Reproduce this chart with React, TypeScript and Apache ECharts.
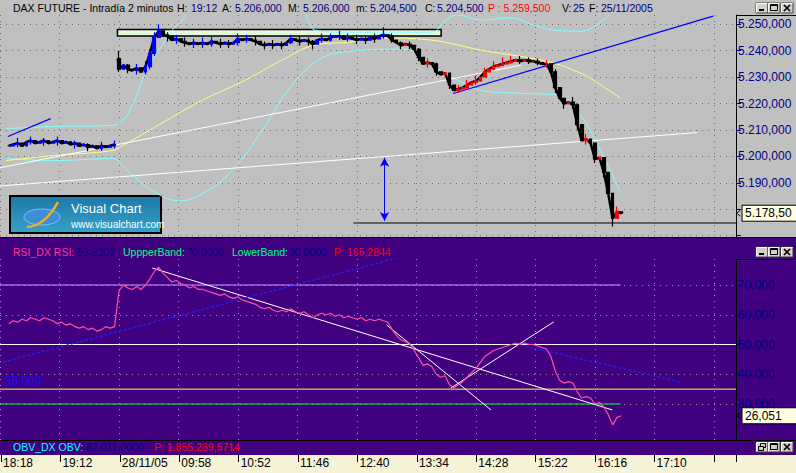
import React, { useEffect, useRef } from "react";
import * as echarts from "echarts";

// ---------- axis labels ----------
const timeLabels = ["18:18", "19:12", "28/11/05", "09:58", "10:52", "11:46", "12:40", "13:34", "14:28", "15:22", "16:16", "17:10", ""];
const barsPerLabel = 27; // 2-minute bars between labels
const xMax = 334;

// ---------- price (sampled every 2 bars) ----------
const day1Start = 4;
const day1Closes = [5204, 5204.5, 5205, 5204, 5205.5, 5206, 5205, 5205.5, 5206, 5205, 5205.5, 5206, 5205, 5205.5, 5204.5, 5205, 5204, 5204.5, 5203.5, 5204, 5203, 5204, 5203.5, 5204, 5204.5];
const day2Start = 54;
const day2Open = 5237;
const day2Closes = [
  5233, 5234.5, 5233, 5232.5, 5233.5, 5232, 5234, 5239, 5245, 5247.5,
  5246, 5245.5, 5244, 5244.5, 5243.5, 5243, 5242.5, 5243, 5242.5, 5243,
  5242.5, 5243.5, 5243, 5242.5, 5243, 5242.5, 5243, 5244.5, 5244, 5244.5,
  5244, 5243.5, 5242.5, 5242, 5242.5, 5242, 5242.5, 5242, 5243, 5244.5,
  5244, 5243.5, 5244, 5243.5, 5242.5, 5244, 5244.5, 5244, 5245, 5245.5,
  5245.5, 5244.5, 5245, 5244.5, 5244, 5244.5, 5244, 5245, 5244.5, 5245.5,
  5246, 5245.5, 5244, 5243, 5242, 5242.5, 5242, 5240.5, 5237.5, 5235,
  5235.5, 5235, 5232, 5231, 5231.5, 5227, 5225, 5225.5, 5226, 5227,
  5228, 5228.5, 5230, 5232, 5233, 5234, 5234.5, 5235, 5235.5, 5236,
  5236.5, 5236, 5236.5, 5236, 5236, 5235.5, 5235, 5235, 5232, 5226,
  5222, 5220, 5220.5, 5219.5, 5212, 5206, 5206.5, 5205, 5199, 5199.5,
  5194, 5186, 5176.5, 5179, 5178.5,
];
const redFromIndex = 178;
// [bar index, low, high]
const wicks = [
  [8, 5203.5, 5207], [14, 5204.5, 5207.5], [20, 5204, 5207], [26, 5204, 5207.5], [34, 5203, 5206],
  [40, 5202, 5205], [46, 5202, 5205.5], [52, 5203, 5206],
  [54, 5232, 5240], [58, 5231.5, 5235], [62, 5231, 5235], [66, 5231, 5236], [68, 5233, 5240.5],
  [70, 5238, 5247], [72, 5245.5, 5250], [76, 5243.5, 5247], [80, 5242.5, 5246], [84, 5241.5, 5245],
  [88, 5241, 5244.5], [92, 5241, 5245], [96, 5241.5, 5245.5], [100, 5241, 5244.5], [104, 5241, 5244],
  [108, 5242, 5246.5], [112, 5243, 5246], [116, 5242, 5245.5], [120, 5240.5, 5243.5], [124, 5240.5, 5244],
  [128, 5240.5, 5243.5], [132, 5242.5, 5246], [136, 5242, 5245.5], [140, 5242, 5245], [142, 5240.5, 5244],
  [146, 5243, 5246.5], [150, 5243.5, 5246.5], [154, 5244, 5247.5], [158, 5243.5, 5246.5], [162, 5242.5, 5246],
  [166, 5242.5, 5245.5], [170, 5243, 5246.5], [174, 5244.5, 5249], [178, 5243, 5246.5], [182, 5240.5, 5243.5],
  [186, 5240.5, 5243.5], [190, 5236, 5241], [194, 5233.5, 5237], [198, 5230.5, 5235.5], [204, 5225.5, 5231.5],
  [208, 5224, 5227], [212, 5225.5, 5229], [216, 5227, 5230.5], [220, 5230.5, 5233.5], [224, 5232.5, 5236],
  [228, 5234, 5237.5], [232, 5235, 5238], [236, 5235, 5238], [240, 5235, 5237.5], [244, 5234.5, 5237],
  [248, 5233.5, 5236.5], [252, 5224, 5233], [256, 5218, 5222], [260, 5218, 5222.5], [262, 5210, 5220],
  [266, 5204.5, 5208.5], [270, 5197.5, 5203], [274, 5192, 5197.5], [278, 5173.5, 5186], [280, 5177, 5181],
];
const lastPrice = 5178.5;

// ---------- overlays on price panel: [bar index, price] ----------
const upperBand = [[2.7, 5210.5], [24, 5211.3], [51, 5211.7], [55.6, 5213.6], [60, 5219.3], [64.6, 5228.8], [69, 5236.4], [73.7, 5242.1], [78.2, 5247.8], [82.7, 5251.6], [87.2, 5256.2], [114, 5259], [137, 5255.4], [140, 5250.8], [142.8, 5247.8], [155, 5247], [195.7, 5247], [202.5, 5251.6], [207, 5253.5], [218.3, 5251.6], [231.9, 5252.4], [241, 5250], [251.3, 5247.8], [263.5, 5247.4], [272.5, 5250.8], [278.4, 5255.4], [281.6, 5258.4]];
const lowerBand = [[2.7, 5199.2], [24, 5198.4], [51, 5199.2], [57.9, 5194.6], [69.1, 5187], [81.3, 5183.2], [91.7, 5185.8], [105.3, 5194.6], [118.9, 5209.8], [132.4, 5226.9], [146, 5237.2], [159.5, 5239.8], [182.1, 5240.6], [188.9, 5239.4], [197, 5233.7], [207.9, 5228.8], [218.3, 5225], [236.4, 5223.9], [248.6, 5223.5], [254.5, 5222.7], [263.5, 5215.5], [272.5, 5202.2], [281.6, 5186.2]];
const movingAvg = [[2.7, 5198.4], [24, 5200.3], [51, 5202.2], [55.6, 5204.1], [69.1, 5210.5], [91.7, 5221.2], [111.2, 5228.8], [127.9, 5236.4], [142.8, 5242.1], [158.2, 5243.2], [173.1, 5244.8], [195.7, 5244], [218.3, 5240.2], [240.9, 5237.2], [251.3, 5235.3], [263.5, 5231.5], [269.4, 5228.8], [281.6, 5222]];
const whiteLineLong = [[0, 5188.8], [316.4, 5209]];
const whiteLineLows = [[0, 5195.7], [236.4, 5234.5]];
const blueTrend = [[205.6, 5223.8], [323.6, 5253.1]];
const blueTrendLeft = [[3.6, 5207.5], [23, 5214.3]];
const supportLine = [[160.4, 5174.8], [334, 5174.8]];
const arrowLine = [[174.5, 5199.5], [174.5, 5175.6]];
const resistanceBox = [[53.3, 5245.6], [200.2, 5248]];

// ---------- RSI (sampled every 2 bars from bar 4) ----------
const rsiStart = 4;
const rsiValues = [
  57, 58, 57.5, 58.5, 58, 59, 58.5, 58, 59, 58.5, 58, 57, 57.5, 56.5, 57, 56, 55.5, 56, 55, 55.5, 54.5, 55, 56, 55.5, 56,
  68, 70, 69, 68.5, 69.5, 68.5, 70, 72, 74.5, 76,
  74, 72.5, 71, 71.5, 70.5, 70, 69, 69.5, 68.5, 68.5,
  68, 67.5, 67, 66.5, 67, 66, 65.5, 66, 65, 64.5,
  64, 63.5, 62.5, 62, 62.5, 61.5, 61, 61.5, 61, 62,
  61, 60.5, 61, 60, 59, 60, 60.5, 60, 60.5, 59.5,
  60, 59, 59.5, 59, 58.5, 59, 58, 58.5, 58, 58.5,
  58, 57.5, 55, 53, 51.5, 51, 50, 48, 45.5, 43,
  43.5, 42.5, 40, 39, 39.5, 36.5, 35.5, 36.5, 37.5, 39,
  40.5, 42, 44, 46, 47, 48, 48.5, 49, 49.5, 50,
  50.5, 50, 50.5, 50, 50, 49.5, 49, 48.5, 46, 41,
  38, 37, 37.5, 37, 34, 32, 32.5, 32, 30, 30.5,
  29, 26.5, 23, 25.5, 26.05,
];
const lastRsi = 26.051;
const rsiLevelsShort = [[70, "#c89cff"], [30, "#00ff40"]];
const rsiLevelsLong = [[50, "#ffffff"], [35, "#ffff40"]];
const rsiLevelEnd = 281.6;
const rsiWhiteLines = [
  [[69.1, 75.7], [277.9, 28]],
  [[175.4, 56.6], [222.8, 28]],
  [[204.7, 35.4], [251.3, 57.6]],
];
const rsiBlueLines = [
  [[1.4, 44.1], [179.9, 79]],
  [[236.4, 49.8], [308.7, 37.4]],
];

// ---------- header texts ----------
const NAVY = "#000080";
const headerItems = [
  ["DAX FUTURE - Intradía 2 minutos", 13, "#000"], ["H:", 177, "#000"], ["19:12", 191, NAVY],
  ["A:", 222, "#000"], ["5.206,000", 235, NAVY], ["M:", 288, "#000"], ["5.206,000", 303, NAVY],
  ["m:", 356, "#000"], ["5.204,500", 370, NAVY], ["C:", 425, "#000"], ["5.204,500", 437, NAVY],
  ["P : 5.259,500", 488, "#ff0000"], ["V:", 562, "#000"], ["25", 573, NAVY],
  ["F:", 589, "#000"], ["25/11/2005", 601, NAVY],
];
const rsiHeaderItems = [
  ["RSI_DX RSI:", 13, "#ff3399"], ["53,2302", 77, NAVY], ["UppperBand:", 123, "#00ff80"],
  ["70,0000", 186, NAVY], ["LowerBand:", 232, "#00ff80"], ["30,0000", 289, NAVY], ["P: 165,2844", 334, "#ff0000"],
];
const obvHeaderItems = [
  ["OBV_DX OBV:", 13, "#00ffff"], ["82.011,0000", 86, NAVY], ["P: 1.855.239,5714", 154, "#ff0000"],
];

const FONT = '"Liberation Sans", Arial, sans-serif';

function fmtDE(v: number, dec: number) {
  const s = Math.abs(v).toFixed(dec);
  const [intPart, frac] = s.split(".");
  const dotted = intPart.replace(/\B(?=(\d{3})+(?!\d))/g, ".");
  return (v < 0 ? "-" : "") + dotted + (frac ? "," + frac : "");
}

function buildCandles() {
  const blue: number[][] = [];
  const red: number[][] = [];
  const push = (i: number, o: number, c: number) => {
    let lo = Math.min(o, c), hi = Math.max(o, c);
    const w = wicks.find((k) => k[0] === i);
    if (w) { lo = Math.min(lo, w[1]); hi = Math.max(hi, w[2]); }
    (i >= redFromIndex ? red : blue).push([i, o, c, lo, hi]);
  };
  let prev = day1Closes[0];
  day1Closes.forEach((c, k) => { push(day1Start + 2 * k, prev, c); prev = c; });
  prev = day2Open;
  day2Closes.forEach((c, k) => { push(day2Start + 2 * k, prev, c); prev = c; });
  return { blue, red };
}

function xAxis(gridIndex: number) {
  const labels = gridIndex === 2;
  return {
    type: "value", gridIndex, min: 0, max: xMax, interval: barsPerLabel,
    axisLine: { show: false },
    axisTick: labels ? { show: true, length: 7, lineStyle: { color: "#000", width: 1 } } : { show: false },
    axisLabel: labels
      ? {
          show: true, color: "#000", fontSize: 12, fontFamily: FONT, align: "left", margin: 2, padding: [0, 0, 0, 2],
          formatter: (v: number) => {
            const k = Math.round(v / barsPerLabel);
            return Math.abs(v - k * barsPerLabel) < 1e-6 ? timeLabels[k] ?? "" : "";
          },
        }
      : { show: false },
    splitLine: gridIndex < 2
      ? { show: true, lineStyle: { color: gridIndex === 0 ? "#6e6e6e" : "#9a9aa6", type: [1, 5], width: 1 } }
      : { show: false },
  };
}

function line(data: number[][], color: string, grid: number, extra: any = {}) {
  return {
    type: "line", xAxisIndex: grid, yAxisIndex: grid, data, symbol: "none", showSymbol: false, silent: true,
    smooth: extra.smooth ?? false, z: extra.z ?? 3,
    lineStyle: { color, width: extra.width ?? 1, type: extra.type ?? "solid" },
    ...(extra.more || {}),
  };
}

function buildOption() {
  const { blue, red } = buildCandles();
  const rsiData = rsiValues.map((v, k) => [rsiStart + 2 * k, v]);
  const day1Trace = day1Closes.map((c, k) => [day1Start + 2 * k, c]);
  const day2Trace = [[day2Start - 0.5, day2Open], ...day2Closes.map((c, k) => [day2Start + 2 * k, c])];
  const candleStyle = (c: string) => ({ color: c, color0: "#000000", borderColor: c, borderColor0: "#000000", borderWidth: 1.2 });
  const series: any[] = [
    line([resistanceBox[0]], "transparent", 0, {
      z: 1,
      more: {
        markArea: {
          silent: true,
          itemStyle: { color: "#e4f8dc", borderColor: "#000", borderWidth: 1.5, opacity: 1 },
          data: [[{ coord: resistanceBox[0] }, { coord: resistanceBox[1] }]],
        },
      },
    }),
    line(upperBand, "#80ffff", 0, { smooth: 0.4 }),
    line(lowerBand, "#80ffff", 0, { smooth: 0.4 }),
    line(movingAvg, "#ffff80", 0, { smooth: 0.4 }),
    line(whiteLineLong, "#ffffff", 0),
    line(whiteLineLows, "#ffffff", 0),
    line(blueTrend, "#0000ff", 0, { width: 1.2 }),
    line(blueTrendLeft, "#0000ff", 0, { width: 1.2 }),
    line(day1Trace, "#000000", 0, { z: 4, width: 2.5 }),
    line(day2Trace, "#000000", 0, { z: 4, width: 2.5 }),
    {
      type: "candlestick", xAxisIndex: 0, yAxisIndex: 0, data: blue, barWidth: 3.2, z: 5, silent: true,
      encode: { x: 0, y: [1, 2, 3, 4] }, itemStyle: candleStyle("#0000ff"),
    },
    {
      type: "candlestick", xAxisIndex: 0, yAxisIndex: 0, data: red, barWidth: 3.2, z: 5, silent: true,
      encode: { x: 0, y: [1, 2, 3, 4] }, itemStyle: candleStyle("#ff0000"),
    },
    line(supportLine, "#000000", 0, {
      z: 6,
      more: {
        markLine: {
          silent: true, symbol: ["arrow", "arrow"], symbolSize: [7, 9],
          lineStyle: { color: "#0000ff", width: 1, type: "solid" }, label: { show: false },
          data: [[{ coord: arrowLine[0] }, { coord: arrowLine[1] }]],
        },
      },
    }),
    ...rsiLevelsShort.map(([lv, c]) => line([[0, lv as number], [rsiLevelEnd, lv as number]], c as string, 1, { z: 2 })),
    ...rsiLevelsLong.map(([lv, c]) => line([[0, lv as number], [xMax, lv as number]], c as string, 1, { z: 2 })),
    ...rsiWhiteLines.map((l) => line(l, "#ffffff", 1, { z: 3 })),
    ...rsiBlueLines.map((l) => line(l, "#2020ff", 1, { z: 3, type: [3, 2], width: 1.3 })),
    line(rsiData, "#ff4fa7", 1, { z: 4, width: 1.2 }),
    line([], "transparent", 2),
  ];

  return {
    animation: false,
    backgroundColor: "transparent",
    grid: [
      { left: -3, right: 60, top: 15, bottom: 236 },
      { left: -3, right: 60, top: 259, bottom: 33 },
      { left: -3, right: 60, top: 441, bottom: 18 },
    ],
    xAxis: [xAxis(0), xAxis(1), xAxis(2)],
    yAxis: [
      {
        type: "value", gridIndex: 0, position: "right", min: 5169.5, max: 5253.5, splitNumber: 8,
        axisLine: { show: true, onZero: false, lineStyle: { color: "#000", width: 1 } },
        axisTick: { show: true, length: 5, lineStyle: { color: NAVY }, customValues: [5170, 5180, 5190, 5200, 5210, 5220, 5230, 5240, 5250] },
        axisLabel: {
          color: NAVY, fontSize: 12, fontFamily: FONT, margin: 2,
          customValues: [5190, 5200, 5210, 5220, 5230, 5240, 5250],
          formatter: (v: number) => (v >= 5189 && v <= 5251 && Math.abs(v % 10) < 1e-6 ? fmtDE(v, 3) : ""),
        },
        splitLine: { show: true, lineStyle: { color: "#6e6e6e", type: [1, 5], width: 1 } },
      },
      {
        type: "value", gridIndex: 1, position: "right", min: 17.9, max: 78.74, splitNumber: 6,
        axisLine: { show: true, onZero: false, lineStyle: { color: "#000", width: 1 } },
        axisTick: { show: true, length: 5, lineStyle: { color: NAVY }, customValues: [30, 40, 50, 60, 70] },
        axisLabel: {
          color: NAVY, fontSize: 12, fontFamily: FONT, margin: 2,
          customValues: [30, 40, 50, 60, 70],
          formatter: (v: number) => (v >= 29 && v <= 71 && Math.abs(v % 10) < 1e-6 ? fmtDE(v, 3) : ""),
        },
        splitLine: { show: true, lineStyle: { color: "#9a9aa6", type: [1, 5], width: 1 } },
      },
      { type: "value", gridIndex: 2, show: false, min: 0, max: 1 },
    ],
    series,
  };
}

function texts(items: any[], y: number) {
  return items.map(([t, x, c]) => ({
    type: "text", x, y, z: 100,
    style: { text: t, fill: c, font: `10.5px ${FONT}`, textVerticalAlign: "middle" },
  }));
}

function button(x: number, y: number, kind: string) {
  const w = 12, h = 10;
  const glyph: any[] = [];
  if (kind === "min") glyph.push({ type: "rect", shape: { x: 3, y: 6, width: 5, height: 2 }, style: { fill: "#000" } });
  if (kind === "max") glyph.push({ type: "rect", shape: { x: 2.5, y: 1.5, width: 7, height: 6 }, style: { fill: "none", stroke: "#000", lineWidth: 1 } },
    { type: "line", shape: { x1: 2.5, y1: 2.5, x2: 9.5, y2: 2.5 }, style: { stroke: "#000", lineWidth: 1 } });
  if (kind === "close") glyph.push({ type: "line", shape: { x1: 3, y1: 2, x2: 9, y2: 8 }, style: { stroke: "#000", lineWidth: 1.6 } },
    { type: "line", shape: { x1: 9, y1: 2, x2: 3, y2: 8 }, style: { stroke: "#000", lineWidth: 1.6 } });
  if (kind === "restore") glyph.push({ type: "rect", shape: { x: 4.5, y: 1.5, width: 5, height: 4 }, style: { fill: "none", stroke: "#000" } },
    { type: "rect", shape: { x: 2.5, y: 4.5, width: 5, height: 4 }, style: { fill: "#d4d0c8", stroke: "#000" } });
  return {
    type: "group", x, y, z: 100,
    children: [
      { type: "rect", shape: { x: 0, y: 0, width: w, height: h }, style: { fill: "#d4d0c8", stroke: "#404040", lineWidth: 1 } },
      { type: "polyline", shape: { points: [[0.5, h - 0.5], [0.5, 0.5], [w - 0.5, 0.5]] }, style: { stroke: "#ffffff", fill: null, lineWidth: 1 } },
      ...glyph,
    ],
  };
}

function tag(x: number, y: number, text: string) {
  return {
    type: "group", x, y, z: 110,
    children: [
      { type: "polyline", shape: { points: [[-2, -3], [-5, 0], [-2, 3]] }, style: { stroke: "#000", fill: null, lineWidth: 1 } },
      { type: "rect", shape: { x: 0, y: -8, width: 60, height: 16 }, style: { fill: "#ffffe1", stroke: "#000", lineWidth: 1 } },
      { type: "text", x: 3, y: 0, style: { text, fill: "#000", font: `12px ${FONT}`, textVerticalAlign: "middle" } },
    ],
  };
}

function buildGraphics(py: number, ry: number) {
  return [
    { type: "line", z: 90, shape: { x1: 736, y1: 15.5, x2: 796, y2: 15.5 }, style: { stroke: "#000", lineWidth: 1 } },
    { type: "line", z: 90, shape: { x1: 736, y1: 259.5, x2: 796, y2: 259.5 }, style: { stroke: "#000", lineWidth: 1 } },
    { type: "line", z: 90, shape: { x1: 0, y1: 440.5, x2: 796, y2: 440.5 }, style: { stroke: "#000", lineWidth: 1 } },
    ...texts(headerItems, 8),
    ...texts(rsiHeaderItems, 252),
    ...texts(obvHeaderItems, 447),
    { type: "text", x: 5, y: 381, z: 100, style: { text: "35,000", fill: "#1010ff", font: `12px ${FONT}`, textVerticalAlign: "middle" } },
    button(756, 3, "min"), button(768, 3, "max"), button(781, 3, "close"),
    button(756, 247, "min"), button(768, 247, "max"), button(781, 247, "close"),
    button(756, 442, "restore"), button(768, 442, "max"), button(781, 442, "close"),
    tag(742, py, fmtDE(lastPrice, 2)),
    tag(742, ry, fmtDE(lastRsi, 3)),
    {
      type: "group", x: 10, y: 196, z: 100,
      children: [
        {
          type: "rect", shape: { x: 0, y: 0, width: 151, height: 37 },
          style: {
            fill: new echarts.graphic.LinearGradient(0, 0, 0, 1, [{ offset: 0, color: "#1e78a8" }, { offset: 1, color: "#35a2c8" }]),
            stroke: "#000", lineWidth: 2,
          },
        },
        { type: "ellipse", shape: { cx: 32, cy: 21, rx: 18, ry: 8 }, style: { fill: "#3f8fd8", stroke: "#7fc0f0", lineWidth: 1 } },
        { type: "bezierCurve", shape: { x1: 17, y1: 31, x2: 48, y2: 6, cpx1: 35, cpy1: 30 }, style: { stroke: "#f0b020", lineWidth: 2.5, fill: null } },
        { type: "text", x: 61, y: 12, style: { text: "Visual Chart", fill: "#ffffff", font: `13px ${FONT}`, textVerticalAlign: "middle" } },
        { type: "text", x: 61, y: 28, style: { text: "www.visualchart.com", fill: "#ffffff", font: `10px ${FONT}`, textVerticalAlign: "middle" } },
      ],
    },
  ];
}

export default function App() {
  const ref = useRef<HTMLDivElement>(null);
  useEffect(() => {
    const el = ref.current;
    if (!el) return;
    const chart = echarts.init(el, null, { renderer: "svg" });
    chart.setOption(buildOption() as any);
    const py = chart.convertToPixel({ yAxisIndex: 0 } as any, lastPrice) as unknown as number;
    const ry = chart.convertToPixel({ yAxisIndex: 1 } as any, lastRsi) as unknown as number;
    chart.setOption({ graphic: buildGraphics(py, ry) } as any);
    return () => chart.dispose();
  }, []);
  return (
    <div
      ref={ref}
      style={{
        position: "fixed", left: 0, top: 0, width: 796, height: 473,
        background:
          "linear-gradient(to bottom, #c0c0c0 0px, #c0c0c0 237px, #000 237px, #000 238px, #400080 238px, #400080 455px, #f6f2d6 455px, #f6f2d6 473px)",
      }}
    />
  );
}
